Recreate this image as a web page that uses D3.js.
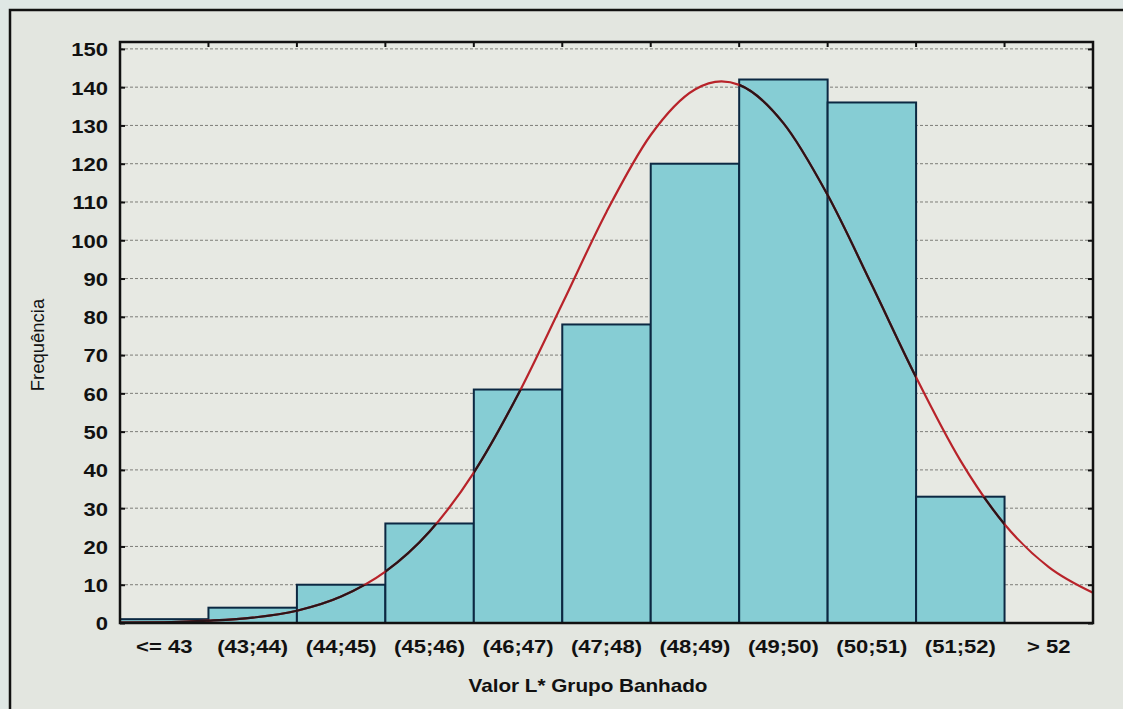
<!DOCTYPE html>
<html>
<head>
<meta charset="utf-8">
<script src="https://cdn.jsdelivr.net/npm/d3@7"></script>
<style>
  body { margin: 0; background: #dfe7e5; }
  text { font-family: "Liberation Sans", Arial, sans-serif; fill: #111; }
</style>
</head>
<body>
<div id="chart"></div>
<script>
// svg dimensions
let svgWidth = 1123,
  svgHeight = 709;

// histogram bins and counts
let binLabels = ["<= 43", "(43;44)", "(44;45)", "(45;46)", "(46;47)", "(47;48)",
  "(48;49)", "(49;50)", "(50;51)", "(51;52)", "> 52"];
let binCounts = [1, 4, 10, 26, 61, 78, 120, 142, 136, 33, 0];

// fitted normal curve
let curveX = [42, 42.5, 43, 43.5, 44, 44.5, 45, 45.5, 46, 46.5, 47, 47.5, 48, 48.5,
  48.8, 49, 49.5, 50, 50.5, 51, 51.5, 52, 52.5, 53];
let curveY = [0.1, 0.2, 0.6, 1.4, 3.2, 6.9, 13.4, 23.9, 39.3, 59.7, 83.4, 107.4, 127.5,
  139.4, 141.5, 140.6, 130.6, 111.8, 88.3, 64.2, 42.5, 25.8, 14.6, 7.9];

// y tick values
let yTicks = [0, 10, 20, 30, 40, 50, 60, 70, 80, 90, 100, 110, 120, 130, 140, 150];

// chart margins
let chartMargins = { top: 42, right: 30, bottom: 86, left: 120 };
let chartWidth = svgWidth - chartMargins.left - chartMargins.right;
let chartHeight = svgHeight - chartMargins.top - chartMargins.bottom;

let svg = d3
  .select("#chart")
  .append("svg")
  .attr("width", svgWidth)
  .attr("height", svgHeight);

// outer frame (only left and top edges show)
svg.append("rect")
  .attr("x", 10).attr("y", 10)
  .attr("width", svgWidth).attr("height", svgHeight)
  .attr("fill", "#e3e6e0")
  .attr("stroke", "#111")
  .attr("stroke-width", 2.5);

let chartGroup = svg
  .append("g")
  .attr("transform", `translate(${chartMargins.left}, ${chartMargins.top})`);

// scales
let xBand = d3.scaleBand().domain(binLabels).range([0, chartWidth]).padding(0);
let xLinear = d3.scaleLinear().domain([42, 53]).range([0, chartWidth]);
let yScale = d3.scaleLinear().domain([0, 151.8]).range([chartHeight, 0]);

// plot background
chartGroup.append("rect")
  .attr("width", chartWidth)
  .attr("height", chartHeight)
  .attr("fill", "#e7e9e3");

// dotted grid lines
chartGroup.append("g")
  .selectAll("line")
  .data(yTicks.slice(1))
  .enter()
  .append("line")
  .attr("x1", 0).attr("x2", chartWidth)
  .attr("y1", (d) => yScale(d)).attr("y2", (d) => yScale(d))
  .attr("stroke", "#7d7d78")
  .attr("stroke-width", 1)
  .attr("stroke-dasharray", "3,2");

// bars
let bars = chartGroup
  .selectAll(".bar")
  .data(binCounts)
  .enter()
  .append("rect")
  .classed("bar", true)
  .attr("x", (d, i) => xBand(binLabels[i]))
  .attr("y", (d) => yScale(d))
  .attr("width", xBand.bandwidth())
  .attr("height", (d) => chartHeight - yScale(d))
  .attr("fill", "#86cdd4")
  .attr("stroke", "#0c2842")
  .attr("stroke-width", 2)
  .style("display", (d) => (d > 0 ? null : "none"));

// clip path made of the bars, so the curve darkens over them
let clip = svg.append("defs").append("clipPath").attr("id", "barClip");
clip.selectAll("rect")
  .data(binCounts)
  .enter()
  .append("rect")
  .attr("x", (d, i) => xBand(binLabels[i]))
  .attr("y", (d) => yScale(d))
  .attr("width", xBand.bandwidth())
  .attr("height", (d) => chartHeight - yScale(d));

let curvePoints = curveX.map((x, i) => [x, curveY[i]]);
let line = d3.line()
  .x((d) => xLinear(d[0]))
  .y((d) => yScale(d[1]))
  .curve(d3.curveMonotoneX);

chartGroup.append("path")
  .datum(curvePoints)
  .attr("d", line)
  .attr("fill", "none")
  .attr("stroke", "#b8232a")
  .attr("stroke-width", 2.2);

chartGroup.append("path")
  .datum(curvePoints)
  .attr("d", line)
  .attr("clip-path", "url(#barClip)")
  .attr("fill", "none")
  .attr("stroke", "#2a1418")
  .attr("stroke-width", 2.2);

// plot frame
chartGroup.append("rect")
  .attr("width", chartWidth)
  .attr("height", chartHeight)
  .attr("fill", "none")
  .attr("stroke", "#111")
  .attr("stroke-width", 2.5);

// axes
let leftAxis = d3.axisLeft(yScale).tickValues(yTicks).tickSize(-5).tickPadding(12);
let rightAxis = d3.axisRight(yScale).tickValues(yTicks).tickSize(-5).tickFormat("");
let topBoundaries = d3.range(1, binLabels.length).map((i) => xBand(binLabels[i]));
let bottomAxis = d3.axisBottom(xBand).tickSize(0).tickPadding(16);

let leftAxisGroup = chartGroup.append("g").call(leftAxis);
chartGroup.append("g").attr("transform", `translate(${chartWidth}, 0)`).call(rightAxis);
let bottomAxisGroup = chartGroup.append("g")
  .attr("transform", `translate(0, ${chartHeight})`)
  .call(bottomAxis);

// boundary ticks on top and bottom
chartGroup.append("g")
  .selectAll("line")
  .data(topBoundaries)
  .enter()
  .append("line")
  .attr("x1", (d) => d).attr("x2", (d) => d)
  .attr("y1", 0).attr("y2", 5)
  .attr("stroke", "#111").attr("stroke-width", 2);

[leftAxisGroup, bottomAxisGroup].forEach((g) => {
  g.select(".domain").remove();
  g.selectAll("line").attr("stroke", "#111").attr("stroke-width", 2);
});
chartGroup.selectAll(".domain").remove();
chartGroup.selectAll(".tick line").attr("stroke", "#111").attr("stroke-width", 2);

// widen the tick labels to match the stretched look
leftAxisGroup.selectAll("text")
  .attr("x", null)
  .attr("dy", "0.36em")
  .style("font-size", "19px")
  .style("font-weight", "bold")
  .attr("transform", "translate(-12, 0) scale(1.16, 1)");

bottomAxisGroup.selectAll("text")
  .attr("y", null)
  .attr("dy", null)
  .style("font-size", "19px")
  .style("font-weight", "bold")
  .attr("transform", "translate(0, 30) scale(1.16, 1)");

// axis titles
chartGroup.append("text")
  .attr("transform", `translate(${588 - chartMargins.left}, ${692 - chartMargins.top}) scale(1.15, 1)`)
  .attr("text-anchor", "middle")
  .style("font-size", "18px")
  .style("font-weight", "bold")
  .text("Valor L* Grupo Banhado");

svg.append("text")
  .attr("transform", "translate(44, 345) rotate(-90)")
  .attr("text-anchor", "middle")
  .style("font-size", "18.5px")
  .text("Frequência");
</script>
</body>
</html>
